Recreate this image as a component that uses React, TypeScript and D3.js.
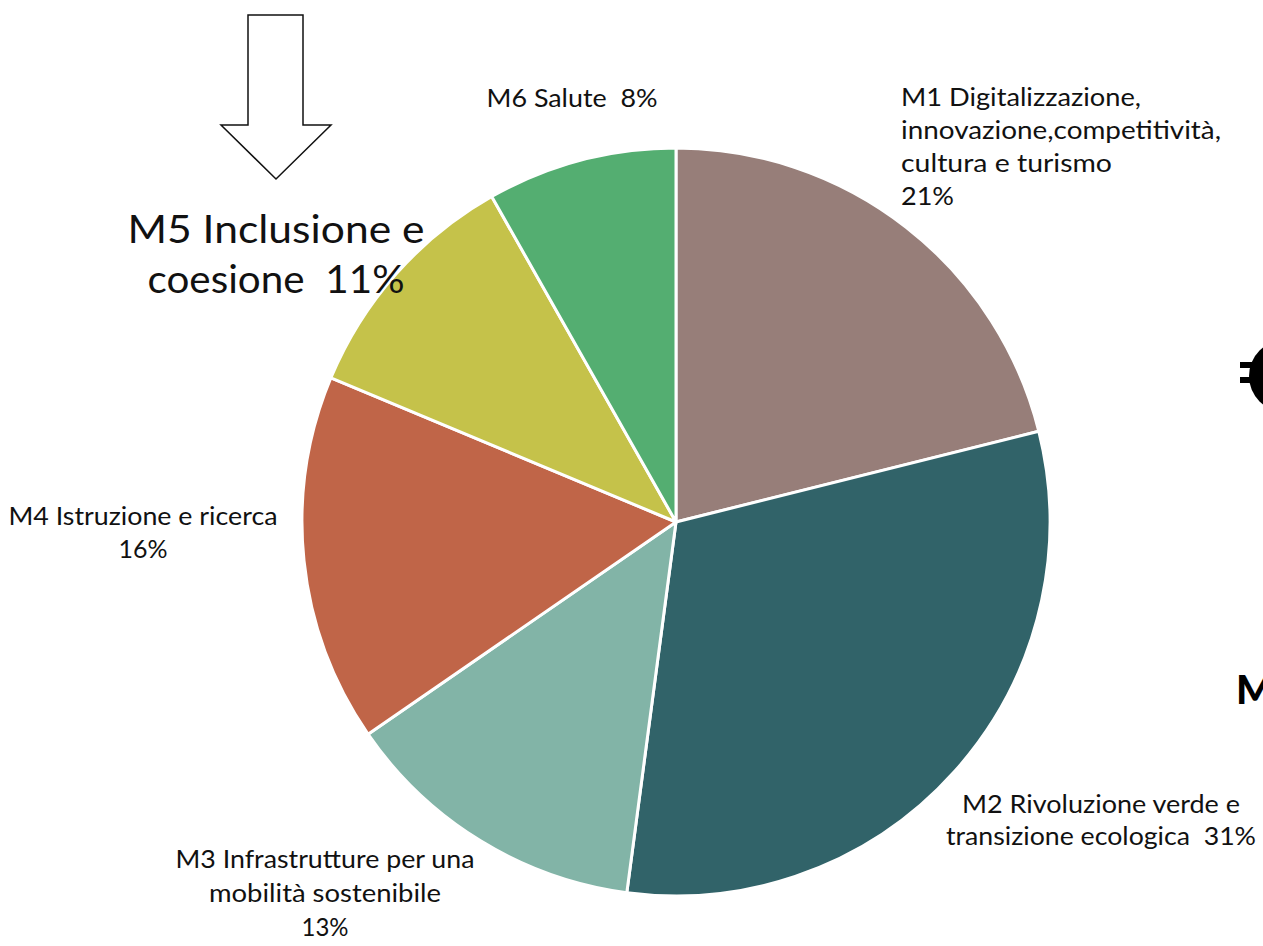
import React, { useEffect, useRef } from 'react';
import * as d3 from 'd3';

// PNRR missions, share of funds (clockwise from 12 o'clock)
const MISSIONS = ['M1', 'M2', 'M3', 'M4', 'M5', 'M6'];
const SHARES = [21.1, 31.0, 13.3, 15.9, 10.5, 8.2];
const COLORS = ['#977E79', '#316369', '#82B4A7', '#C06548', '#C5C24A', '#54AE71'];
const LABEL_LINES: string[][] = [
  ['M1 Digitalizzazione,', 'innovazione,competitività,', 'cultura e turismo', '21%'],
  ['M2 Rivoluzione verde e', 'transizione ecologica  31%'],
  ['M3 Infrastrutture per una', 'mobilità sostenibile', '13%'],
  ['M4 Istruzione e ricerca', '16%'],
  ['M5 Inclusione e', 'coesione  11%'],
  ['M6 Salute  8%'],
];

// label placement (layout only)
const LABEL_LAYOUT = [
  { x: 901, y: 106, anchor: 'start', size: 25, gap: 33, widths: [240, 320, 211, 53] },
  { x: 1101, y: 813, anchor: 'middle', size: 25, gap: 32, widths: [278, 310] },
  { x: 325, y: 868, anchor: 'middle', size: 25, gap: 34, widths: [299, 232, 47] },
  { x: 143, y: 525, anchor: 'middle', size: 25, gap: 33, widths: [269, 49] },
  { x: 276, y: 243, anchor: 'middle', size: 38, gap: 50, widths: [297, 257] },
  { x: 572, y: 107, anchor: 'middle', size: 25, gap: 30, widths: [171] },
];

const W = 1263;
const H = 946;

const App: React.FC = () => {
  const svgRef = useRef<SVGSVGElement>(null);

  useEffect(() => {
    if (!svgRef.current) return;
    const svg = d3.select(svgRef.current);
    svg.selectAll('*').remove();

    const cx = 676;
    const cy = 522;
    const radius = 374;

    const pie = d3.pie<number>().value(d => d).sort(null);
    const arc = d3.arc<d3.PieArcDatum<number>>().innerRadius(0).outerRadius(radius);

    const g = svg.append('g').attr('transform', `translate(${cx},${cy})`);
    g.selectAll('path')
      .data(pie(SHARES))
      .enter().append('path')
      .attr('d', arc)
      .attr('fill', (_, i) => COLORS[i])
      .attr('stroke', '#ffffff')
      .attr('stroke-width', 3)
      .attr('stroke-linejoin', 'round')
      .attr('data-mission', (_, i) => MISSIONS[i]);

    // labels
    LABEL_LINES.forEach((lines, i) => {
      const l = LABEL_LAYOUT[i];
      const t = svg.append('text')
        .attr('text-anchor', l.anchor)
        .style('font-family', 'Lato, "Open Sans", sans-serif')
        .style('font-weight', '400')
        .style('font-size', `${l.size}px`)
        .style('fill', '#111111');
      lines.forEach((line, j) => {
        t.append('tspan')
          .attr('x', l.x)
          .attr('y', l.y + j * l.gap)
          .attr('textLength', l.widths[j])
          .attr('lengthAdjust', 'spacingAndGlyphs')
          .style('white-space', 'pre')
          .text(line);
      });
    });

    // outlined down arrow pointing to M5
    const arrow = d3.path();
    arrow.moveTo(248, 15);
    arrow.lineTo(303, 15);
    arrow.lineTo(303, 125);
    arrow.lineTo(331, 125);
    arrow.lineTo(276, 179);
    arrow.lineTo(221, 125);
    arrow.lineTo(248, 125);
    arrow.closePath();
    svg.append('path')
      .attr('d', arrow.toString())
      .attr('fill', '#ffffff')
      .attr('stroke', '#111111')
      .attr('stroke-width', 1.5);

    // decorations at the right edge (euro icon, bold heading), clipped as in the slide
    svg.append('circle').attr('cx', 1285).attr('cy', 376).attr('r', 36).attr('fill', '#000');
    svg.append('rect').attr('x', 1240).attr('y', 362).attr('width', 14).attr('height', 6).attr('fill', '#000');
    svg.append('rect').attr('x', 1240).attr('y', 377).attr('width', 14).attr('height', 6).attr('fill', '#000');
    svg.append('text')
      .attr('x', 1236)
      .attr('y', 704)
      .style('font-family', 'Lato, sans-serif')
      .style('font-weight', '900')
      .style('font-size', '40px')
      .style('fill', '#000')
      .text('M');
  }, []);

  return (
    <svg
      ref={svgRef}
      width={W}
      height={H}
      viewBox={`0 0 ${W} ${H}`}
      style={{ position: 'absolute', left: 0, top: 0, background: '#ffffff' }}
    />
  );
};

export default App;
